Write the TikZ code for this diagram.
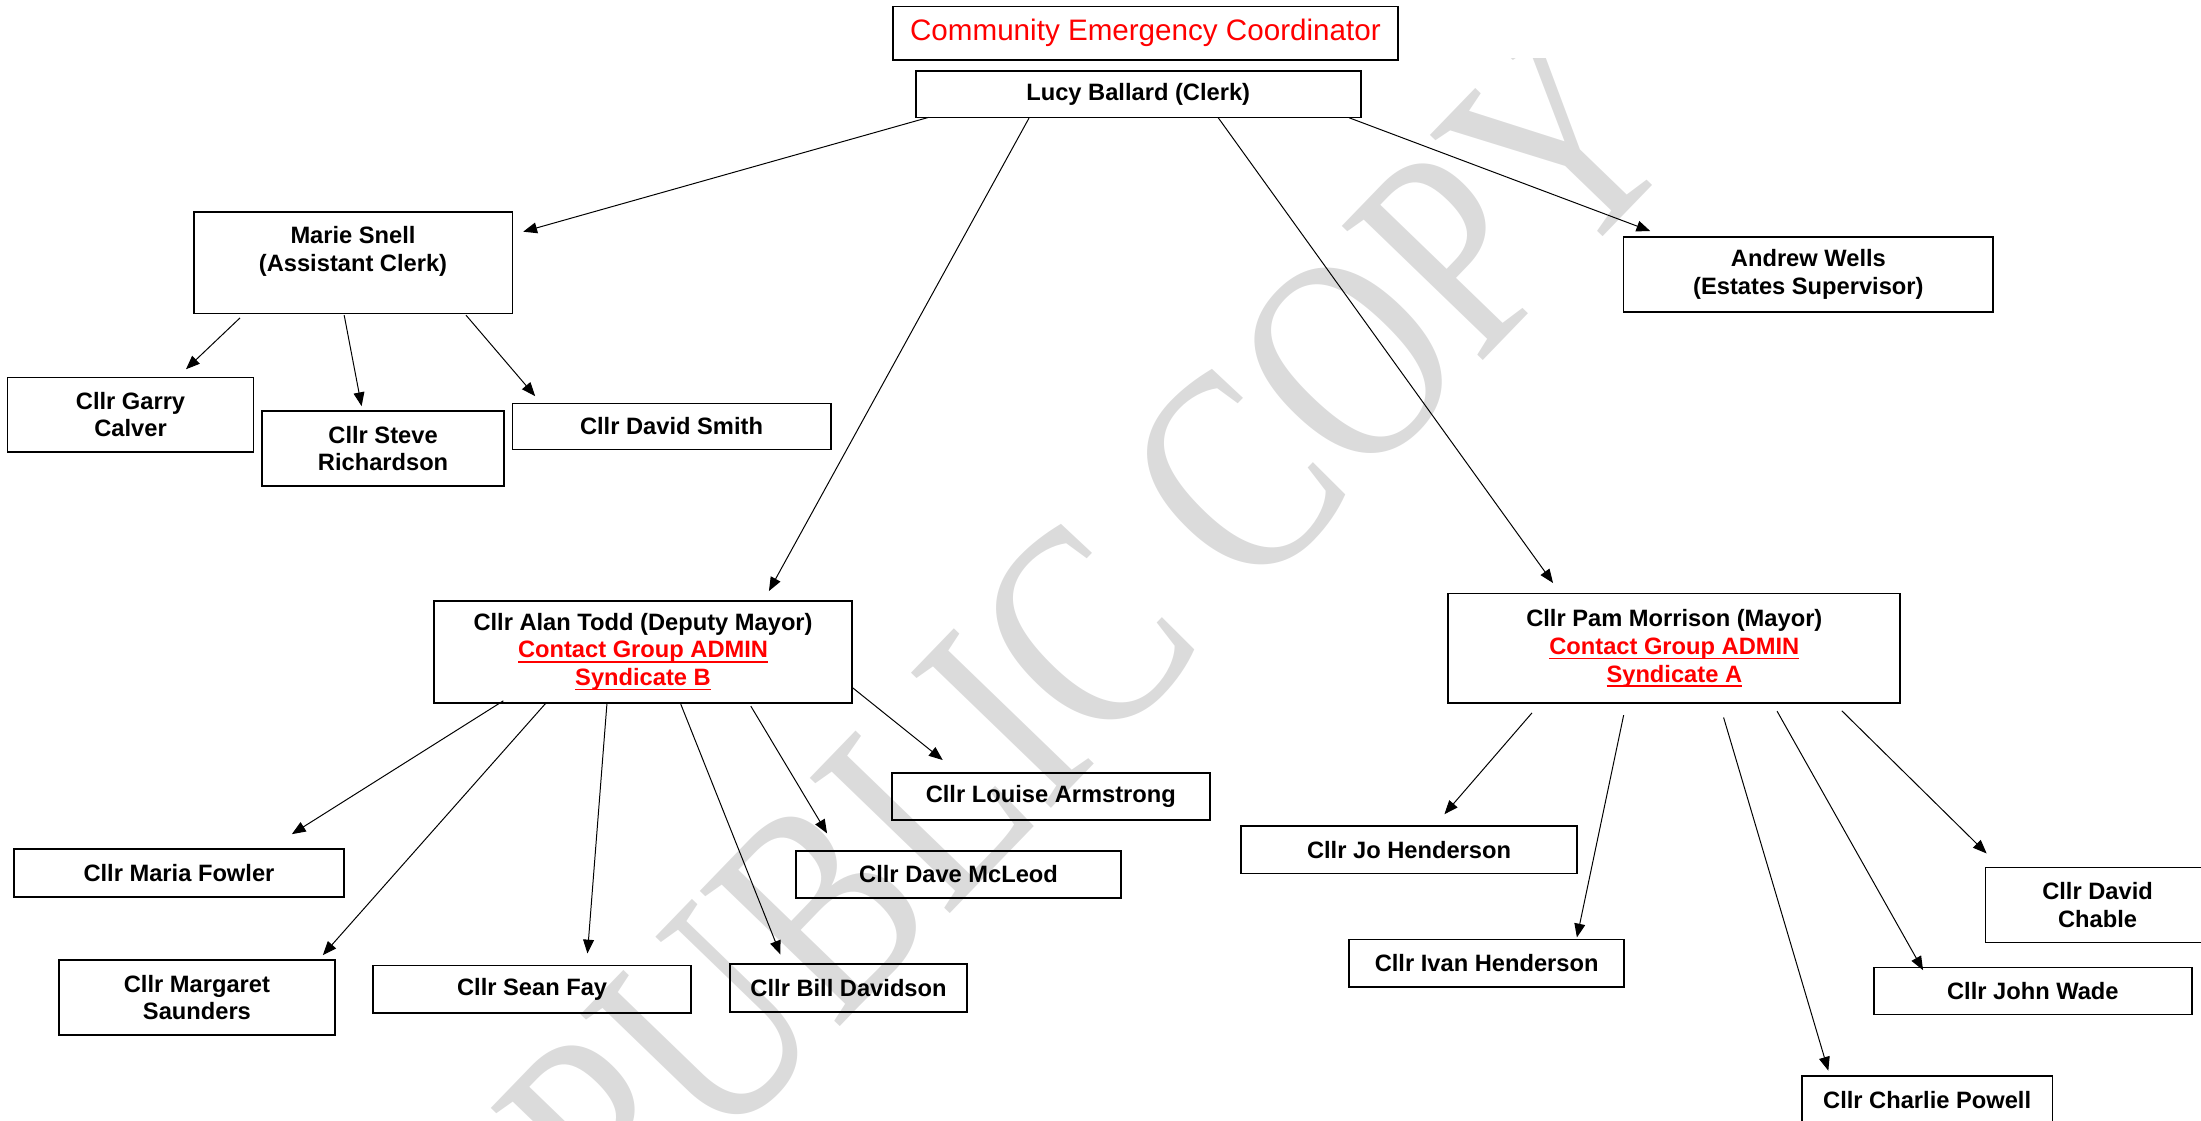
\documentclass[tikz,border=0pt]{standalone}
\usepackage{fontspec}
\setmainfont{Liberation Sans}
\newfontfamily\wmfont{Liberation Serif}
\usetikzlibrary{arrows.meta}
\tikzset{
  box/.style={
    draw,
    rectangle,
    line width=0.9pt,
    inner sep=0pt,
    outer sep=0pt,
    align=center,
    font=\bfseries\fontsize{12}{14}\selectfont
  },
  title/.style={
    font=\fontsize{15}{18}\selectfont,
    text=red
  },
  sz/.style 2 args={
    minimum width=#1*0.025cm,
    minimum height=#2*0.025cm
  },
  arr/.style={
    line width=0.5pt,
    -{Triangle[length=7pt,width=5.5pt]}
  },
  wmark/.style={
    rotate=46,
    text=black!14,
    font=\wmfont\fontsize{119.5}{119.5}\selectfont
  }
}
\newcommand{\redul}[1]{{\color{red}\setbox0=\hbox{#1}\rlap{\rule[-2.5pt]{\wd0}{0.9pt}}\box0}}

\begin{document}
\begin{tikzpicture}[x=0.025cm, y=-0.025cm]
    \useasboundingbox (0,0) rectangle (1568,798);
    \begin{scope}
        \clip (0,41.5) rectangle (1568,798);
        \node[wmark] (wm) at (774.4,449.9) {\scalebox{1}[1.26]{PUBLIC COPY}};
    \end{scope}

    \node[box, title, sz={359.8}{38}] (cec) at (816,23.7) {Community Emergency Coordinator};
    \node[box, sz={316.9}{33.3}] (lucy) at (810.9,67) {Lucy Ballard (Clerk)};
    \node[box, sz={227.1}{72.5}] (marie) at (251.5,187.1) {Marie Snell\\(Assistant Clerk)\\\mbox{}};
    \node[box, sz={263.5}{53}] (andrew) at (1288.3,195.5) {Andrew Wells\\(Estates Supervisor)};
    \node[box, sz={175.3}{52.9}] (garry) at (93,295.4) {Cllr Garry\\Calver};
    \node[box, sz={172.7}{53.5}] (steve) at (272.9,319.4) {Cllr Steve\\Richardson};
    \node[box, sz={226.7}{32.8}] (dsmith) at (478.4,303.8) {Cllr David Smith};
    \node[box, sz={298.2}{72.7}] (alan) at (458.1,464.3) {Cllr Alan Todd (Deputy Mayor)\\\redul{Contact Group ADMIN}\\\redul{Syndicate B}};
    \node[box, sz={322}{78.3}] (pam) at (1192.8,461.9) {Cllr Pam Morrison (Mayor)\\\redul{Contact Group ADMIN}\\\redul{Syndicate A}};
    \node[box, sz={235}{33.9}] (maria) at (127.5,621.9) {Cllr Maria Fowler};
    \node[box, sz={196.3}{53.4}] (margaret) at (140.3,710.7) {Cllr Margaret\\Saunders};
    \node[box, sz={226.2}{33.7}] (sean) at (379.1,704.7) {Cllr Sean Fay};
    \node[box, sz={169}{34}] (bill) at (604.5,703.8) {Cllr Bill Davidson};
    \node[box, sz={231.8}{33.8}] (dave) at (682.9,622.9) {Cllr Dave McLeod};
    \node[box, sz={226.8}{33.7}] (louise) at (748.6,567.4) {Cllr Louise Armstrong};
    \node[box, sz={239.2}{33.7}] (jo) at (1003.8,605.4) {Cllr Jo Henderson};
    \node[box, sz={196.2}{33.7}] (ivan) at (1059.1,686.2) {Cllr Ivan Henderson};
    \node[box, sz={159.8}{53.4}] (chable) at (1494.3,644.7) {Cllr David\\Chable};
    \node[box, sz={226.4}{33.5}] (wade) at (1448.2,706) {Cllr John Wade};
    \node[box, sz={178.6}{33.7}] (charlie) at (1372.9,783.4) {Cllr Charlie Powell};

    \draw[arr] ([shift={(-149.5,0)}]lucy.south) -- ([shift={(7.7,14.2)}]marie.north east);
    \draw[arr] ([shift={(-77.8,0.4)}]lucy.south) -- ([shift={(89.7,-6.9)}]alan.north);
    \draw[arr] ([shift={(56.8,0)}]lucy.south) -- ([shift={(-86.4,-7.4)}]pam.north);
    \draw[arr] ([shift={(150.1,0.2)}]lucy.south) -- ([shift={(19.1,-4.4)}]andrew.north west);

    \draw[arr] ([shift={(-80.5,3.1)}]marie.south) -- ([shift={(39.5,-5.9)}]garry.north);
    \draw[arr] ([shift={(-6.3,1.2)}]marie.south) -- ([shift={(-15.3,-3.3)}]steve.north);
    \draw[arr] ([shift={(80.5,1.2)}]marie.south) -- ([shift={(16.2,-5.2)}]dsmith.north west);

    \draw[arr] ([shift={(-99.5,-1.4)}]alan.south) -- ([shift={(80.4,-10.7)}]maria.north);
    \draw[arr] ([shift={(-69,0)}]alan.south) -- ([shift={(89.7,-3.6)}]margaret.north);
    \draw[arr] ([shift={(-25.7,0.5)}]alan.south) -- ([shift={(39.4,-8.6)}]sean.north);
    \draw[arr] ([shift={(26.9,1)}]alan.south) -- ([shift={(-48.5,-6.8)}]bill.north);
    \draw[arr] ([shift={(76.8,2.4)}]alan.south) -- ([shift={(-93.7,-12.3)}]dave.north);
    \draw[arr] ([shift={(0.2,-10.7)}]alan.south east) -- ([shift={(-77,-9.1)}]louise.north);

    \draw[arr] ([shift={(-101.4,6.8)}]pam.south) -- ([shift={(25.2,-8.5)}]jo.north);
    \draw[arr] ([shift={(-36.1,8.4)}]pam.south) -- ([shift={(64.3,-1.5)}]ivan.north);
    \draw[arr] ([shift={(35.1,10.1)}]pam.south) -- ([shift={(-70.4,-3.8)}]charlie.north);
    \draw[arr] ([shift={(73.2,5.6)}]pam.south) -- ([shift={(-78.2,1.9)}]wade.north);
    \draw[arr] ([shift={(119.3,5.3)}]pam.south) -- ([shift={(-79,-10)}]chable.north);
\end{tikzpicture}
\end{document}
